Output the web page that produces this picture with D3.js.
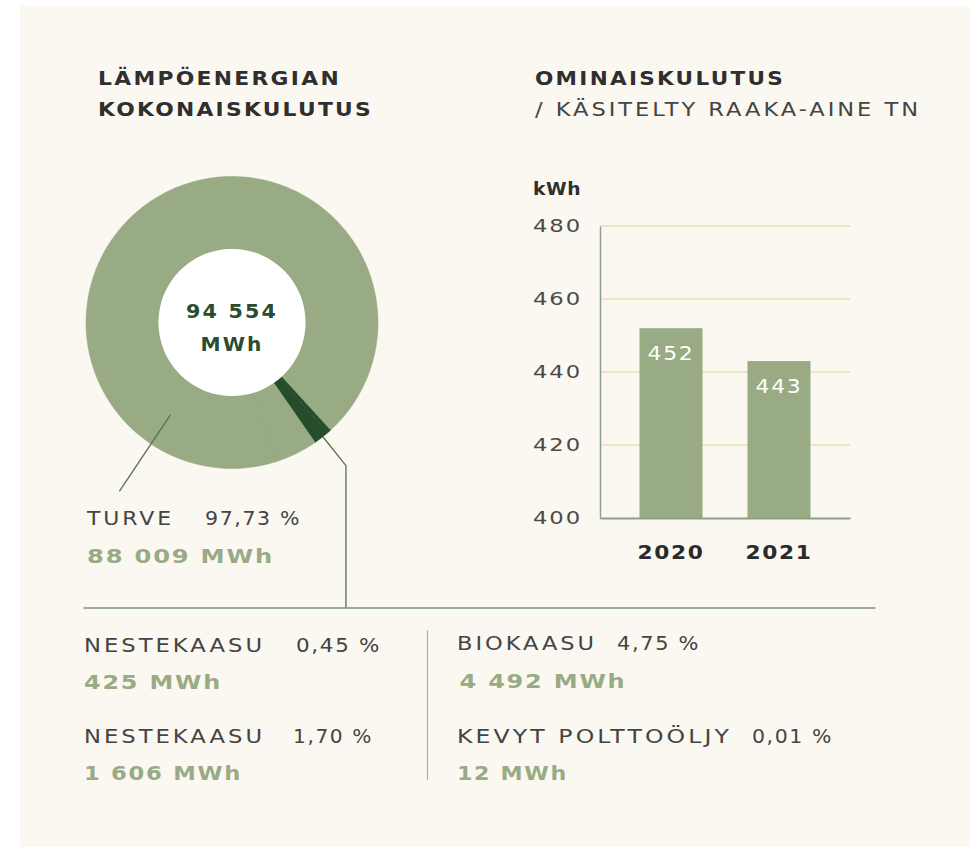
<!DOCTYPE html>
<html>
<head>
<meta charset="utf-8">
<script src="https://cdn.jsdelivr.net/npm/d3@7"></script>
<style>
  body { margin: 0; background: #fff; }
  svg { display: block; }
</style>
</head>
<body>
<div id="chart"></div>
<script>
// Data
const sources = ["Turve", "Nestekaasu", "Nestekaasu", "Biokaasu", "Kevyt polttoöljy"];
const sourceLabels = ["TURVE", "NESTEKAASU", "NESTEKAASU", "BIOKAASU", "KEVYT POLTTOÖLJY"];
const shareLabels = ["97,73 %", "0,45 %", "1,70 %", "4,75 %", "0,01 %"];
const energyMWh = [88009, 425, 1606, 4492, 12];
const totalMWh = 94554; // kuvan mukainen kokonaisluku
const years = ["2020", "2021"];
const kwhPerTon = [452, 443];
const yTicks = [400, 420, 440, 460, 480];

// Layout / styles
const W = 977, H = 847;
const C = {
  bg: "#fbf8f1", light: "#98ab84", dark: "#264d2a", text: "#3b3b3b",
  value: "#98ab84", grid: "#f3e3c6", axis: "#8ea283", rule: "#7a9375",
  divider: "#a9b89d", leader: "#56714f", center: "#2b4c2f"
};
const FONT_B = "'DejaVu Sans', sans-serif";
const FONT = "'DejaVu Sans', sans-serif";

const fi = d3.formatLocale({ decimal: ",", thousands: "\u00a0", grouping: [3], currency: ["", ""] });
const fmt = fi.format(",d");

const svg = d3.select("#chart").append("svg")
    .attr("width", W)
    .attr("height", H);

svg.append("rect")
    .attr("x", 20).attr("y", 6)
    .attr("width", 950).attr("height", 841)
    .attr("fill", C.bg);

// tekstiapuri: pieni välistys + leveys sovitetaan textLengthillä
function txt(parent, x, y, s, o) {
  const t = parent.append("text")
      .attr("x", x).attr("y", y)
      .attr("font-family", o.bold ? FONT_B : FONT)
      .attr("font-weight", o.bold ? "bold" : "normal")
      .attr("font-size", o.size || 18)
      .attr("letter-spacing", o.ls == null ? 2 : o.ls)
      .attr("fill", o.fill || C.text)
      .attr("text-anchor", o.anchor || "start")
      .text(s);
  if (o.w) t.attr("textLength", o.w).attr("lengthAdjust", "spacingAndGlyphs");
  return t;
}

// Otsikot
txt(svg, 98, 85, "LÄMPÖENERGIAN", { bold: true, size: 19, w: 243, fill: "#2f2f2f" });
txt(svg, 98, 116, "KOKONAISKULUTUS", { bold: true, size: 19, w: 275, fill: "#2f2f2f" });
txt(svg, 535, 85, "OMINAISKULUTUS", { bold: true, size: 19, w: 250, fill: "#2f2f2f" });
txt(svg, 535, 116, "/ KÄSITELTY RAAKA-AINE TN", { size: 19, w: 386, ls: 2.5, fill: "#444" });

// Donitsi
const cx = 232, cy = 322.5, rIn = 73.5, rOut = 146;
const offset = -197.5 * Math.PI / 180;
const pie = d3.pie().sort(null).startAngle(offset).endAngle(offset + 2 * Math.PI);
const arcs = pie(energyMWh);
const arc = d3.arc().innerRadius(rIn).outerRadius(rOut);
const colorOf = i => sources[i] === "Nestekaasu" ? C.dark : C.light;

const gD = svg.append("g").attr("transform", `translate(${cx},${cy})`);
gD.selectAll("path")
  .data(arcs)
  .join("path")
    .attr("d", arc)
    .attr("fill", (d, i) => colorOf(i))
    .attr("stroke", (d, i) => colorOf(i))
    .attr("stroke-width", 0.6);

gD.append("circle").attr("r", rIn).attr("fill", "#fff");

txt(gD, 0, -4.5, fmt(totalMWh), { bold: true, size: 19, w: 92, anchor: "middle", fill: C.center });
txt(gD, 0, 28, "MWh", { bold: true, size: 19, w: 63, anchor: "middle", fill: C.center });

const pt = (r, a) => [r * Math.sin(a), -r * Math.cos(a)];
const ruleY = 608;

// nestekaasun viittausviiva
const aN = (arcs[1].startAngle + arcs[2].endAngle) / 2;
const p0 = pt(rOut, aN), p1 = pt(183, aN);
gD.append("path")
    .attr("d", d3.line()([p0, p1, [p1[0], ruleY - cy]]))
    .attr("fill", "none")
    .attr("stroke", C.leader)
    .attr("stroke-width", 1.3);

// turpeen viittausviiva
const aT = 213.7 * Math.PI / 180;
gD.append("path")
    .attr("d", d3.line()([pt(111, aT), pt(203, aT)]))
    .attr("stroke", C.leader)
    .attr("stroke-width", 1.3);

// Vaakaviiva ja pystyjakaja
svg.append("line")
    .attr("x1", 83.5).attr("x2", 875.5)
    .attr("y1", ruleY).attr("y2", ruleY)
    .attr("stroke", C.rule).attr("stroke-width", 1.6);
svg.append("line")
    .attr("x1", 427.5).attr("x2", 427.5)
    .attr("y1", 630).attr("y2", 780)
    .attr("stroke", C.divider).attr("stroke-width", 1.2);

// Selitteet
const legendLayout = [
  { x: 87, y: 525, sx: 205, lw: 87, sw: 96, vx: 87, vy: 562.5, vw: 187 },
  { x: 84, y: 651.5, sx: 296, lw: 181, sw: 85, vx: 84, vy: 689, vw: 138 },
  { x: 84, y: 742.5, sx: 293, lw: 181, sw: 80, vx: 84, vy: 780, vw: 158 },
  { x: 457, y: 650, sx: 617, lw: 140, sw: 83, vx: 459.5, vy: 687.5, vw: 167 },
  { x: 457, y: 742.5, sx: 752, lw: 275, sw: 81, vx: 457, vy: 780, vw: 111 }
];
sources.forEach((s, i) => {
  const L = legendLayout[i];
  txt(svg, L.x, L.y, sourceLabels[i], { size: 19, w: L.lw, ls: 2.5, fill: "#444" });
  txt(svg, L.sx, L.y, shareLabels[i], { size: 19, w: L.sw, ls: 1.5, fill: "#444" });
  txt(svg, L.vx, L.vy, fmt(energyMWh[i]) + " MWh", { bold: true, size: 20, w: L.vw, ls: 1.5, fill: C.value });
});

// Pylväskaavio
const x0 = 600, x1 = 850, yBase = 518;
const x = d3.scaleBand()
    .domain(years)
    .range([x0, x1])
    .paddingInner(0.4167)
    .paddingOuter(0.366);
const y = d3.scaleLinear()
    .domain([400, 480])
    .range([yBase, 226]);

txt(svg, 533, 195, "kWh", { bold: true, size: 17, w: 48, ls: 0.5, fill: "#2f2f2f" });

// ruudukko
svg.append("g")
  .selectAll("line")
  .data(yTicks.slice(1))
  .join("line")
    .attr("x1", x0).attr("x2", x1)
    .attr("y1", d => y(d)).attr("y2", d => y(d))
    .attr("stroke", C.grid)
    .attr("stroke-width", 2);

const bars = svg.append("g");
bars.selectAll("rect")
  .data(years)
  .join("rect")
    .attr("x", d => x(d))
    .attr("y", (d, i) => y(kwhPerTon[i]))
    .attr("width", x.bandwidth())
    .attr("height", (d, i) => yBase - y(kwhPerTon[i]))
    .attr("fill", C.light);

bars.selectAll("text")
  .data(years)
  .join("text")
    .attr("x", d => x(d) + x.bandwidth() / 2)
    .attr("y", (d, i) => y(kwhPerTon[i]) + 32)
    .attr("text-anchor", "middle")
    .attr("font-family", FONT)
    .attr("font-size", 19)
    .attr("letter-spacing", 1.5)
    .attr("fill", "#fff")
    .attr("textLength", 47)
    .attr("lengthAdjust", "spacingAndGlyphs")
    .text((d, i) => kwhPerTon[i]);

const yAxis = svg.append("g")
    .attr("transform", `translate(${x0},0)`)
    .call(d3.axisLeft(y).tickValues(yTicks).tickSize(0).tickPadding(18));
yAxis.select(".domain").attr("stroke", C.axis).attr("stroke-width", 1.5);
yAxis.selectAll("text")
    .attr("font-family", FONT)
    .attr("font-size", 18)
    .attr("letter-spacing", 1.5)
    .attr("fill", "#4a4a4a")
    .attr("textLength", 49)
    .attr("lengthAdjust", "spacingAndGlyphs");

const xAxis = svg.append("g")
    .attr("transform", `translate(0,${yBase})`)
    .call(d3.axisBottom(x).tickSize(0));
xAxis.select(".domain").attr("stroke", C.axis).attr("stroke-width", 1.8);
xAxis.selectAll("text")
    .attr("dy", null)
    .attr("y", 41)
    .attr("font-family", FONT_B)
    .attr("font-weight", "bold")
    .attr("font-size", 20)
    .attr("letter-spacing", 1.5)
    .attr("fill", "#2a2a2a")
    .attr("textLength", 67)
    .attr("lengthAdjust", "spacingAndGlyphs");
</script>
</body>
</html>
